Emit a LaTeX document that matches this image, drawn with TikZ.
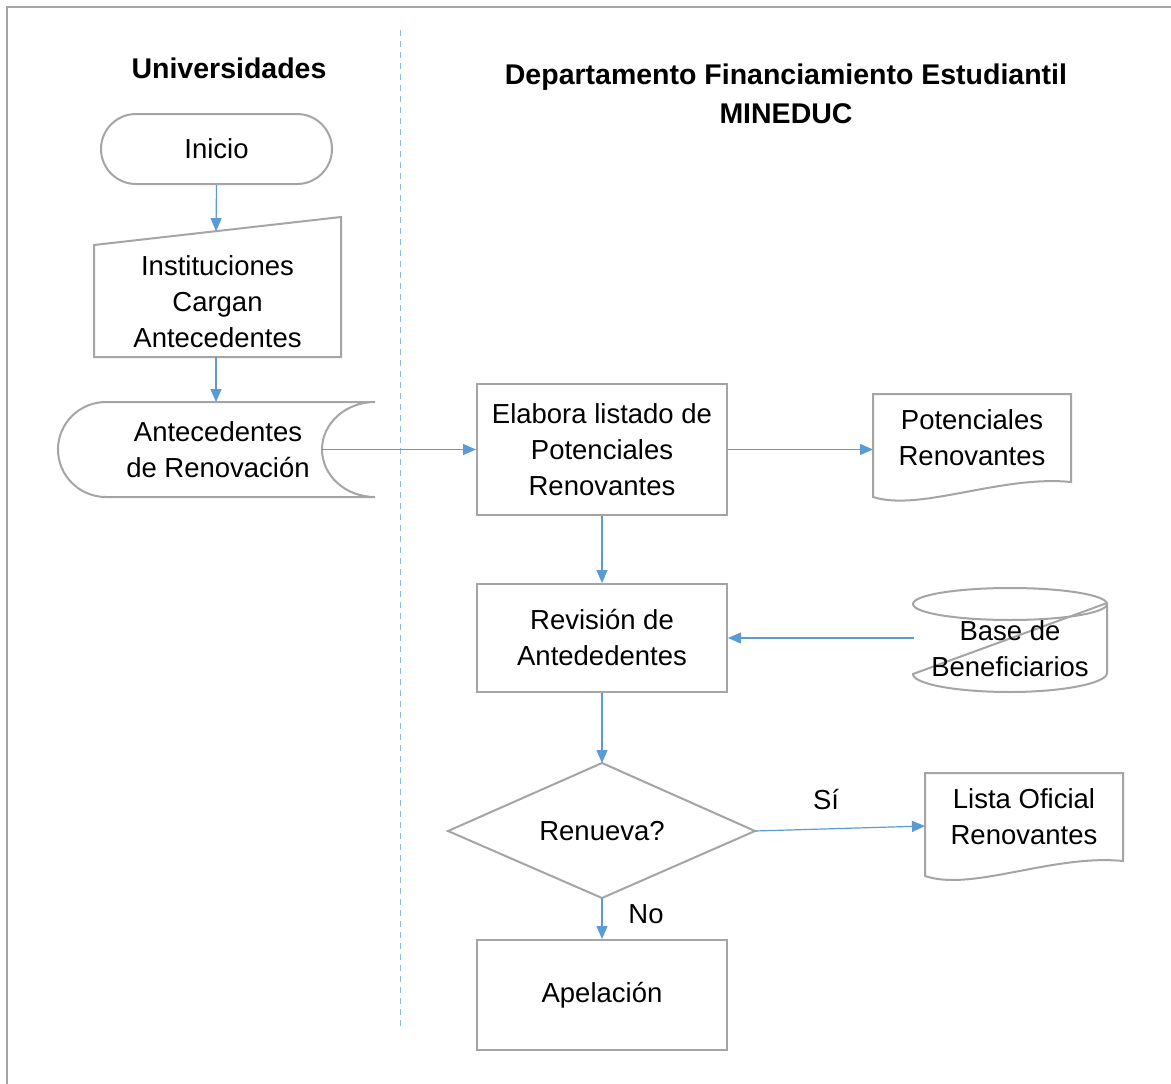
\documentclass[tikz,border=0pt]{standalone}
\usepackage{fontspec}
\setmainfont{Liberation Sans}
\usetikzlibrary{arrows.meta}
\definecolor{shapegray}{HTML}{A5A5A5}
\definecolor{flowblue}{HTML}{5B9BD5}
\begin{document}
\begin{tikzpicture}[x=1pt,y=-1pt,
  shp/.style={draw=shapegray,line width=2pt},
  flow/.style={draw=flowblue,line width=1.2pt,-{Triangle[length=13pt,width=11pt]}},
  txt/.style={align=center,font=\fontsize{27.5}{36}\selectfont,inner sep=0pt},
  ttl/.style={align=center,font=\fontsize{28.5}{39}\selectfont\bfseries,inner sep=0pt},
  box/.style={shp,txt,minimum width=250pt,minimum height=#1}]
\useasboundingbox[fill=white] (0,0) rectangle (1171,1084);
% frame
\draw[draw=shapegray,line width=2.5pt] (1171,7) -- (7,7) -- (7,1084);
% lane separator
\draw[draw=flowblue!70,line width=1pt,dash pattern=on 6pt off 5pt] (400,30) -- (400,1030);
% titles
\node[ttl] (t1) at (229,68) {Universidades};
\node[ttl] (t2) at (786,93.5) {Departamento Financiamiento Estudiantil\\MINEDUC};
% Inicio
\node[shp,txt,rounded corners=35pt,minimum width=231pt,minimum height=70pt] (inicio) at (216.5,149) {Inicio};
% manual input
\draw[shp] (94,245) -- (341,217) -- (341,357) -- (94,357) -- cycle;
\node[txt] (input) at (217.5,302) {Instituciones\\Cargan\\Antecedentes};
\coordinate (inTop) at (216,231.2);
\coordinate (inBot) at (216,357);
% stored data
\draw[shp] (106,402) -- (375,402)
  .. controls (345.7,402) and (322,423.3) .. (322,449.5)
  .. controls (322,475.7) and (345.7,497) .. (375,497)
  -- (106,497)
  .. controls (79.5,497) and (58,475.7) .. (58,449.5)
  .. controls (58,423.3) and (79.5,402) .. (106,402) -- cycle;
\node[txt] (stored) at (218,449.5) {Antecedentes\\de Renovación};
\coordinate (sdTop) at (216,402);
\coordinate (sdOut) at (322,449.5);
% Elabora
\node[box=131pt] (elabora) at (602,449.5) {Elabora listado de\\Potenciales\\Renovantes};
% Potenciales document
\draw[shp] (873,394) -- (1071,394) -- (1071,482)
  .. controls (1000,475) and (920,512) .. (873,497) -- cycle;
\node[txt] (pot) at (972,438) {Potenciales\\Renovantes};
\coordinate (potIn) at (873,449.5);
% Revision
\node[box=108pt] (revision) at (602,638) {Revisión de\\Antededentes};
% cylinder
\draw[shp] (1010,604) ellipse [x radius=97pt, y radius=16pt];
\draw[shp] (1107,604) -- (1107,673)
  .. controls (1107,683) and (1063.5,692) .. (1010,692)
  .. controls (956.5,692) and (913,684) .. (913,674)
  -- (1107,603);
\node[txt] (base) at (1010,648.5) {Base de\\Beneficiarios};
\coordinate (baseOut) at (914,638);
% decision
\draw[shp] (602,763) -- (755,831) -- (602,898) -- (448,831) -- cycle;
\node[txt] (renueva) at (602,831) {Renueva?};
\coordinate (diaTop) at (602,763);
\coordinate (diaRight) at (755,831);
\coordinate (diaBot) at (602,898);
% Lista oficial document
\draw[shp] (925,773) -- (1123,773) -- (1123,861)
  .. controls (1052,854) and (972,892) .. (925,876) -- cycle;
\node[txt] (lista) at (1024,816.5) {Lista Oficial\\Renovantes};
\coordinate (listaIn) at (925,826);
% Apelacion
\node[box=110pt] (apelacion) at (602,995) {Apelación};
% connectors
\draw[flow] (inicio.south) -- (inTop);
\draw[flow] (inBot) -- (sdTop);
\draw[flow] (sdOut) -- (elabora.west);
\draw[flow] (elabora.east) -- (potIn);
\draw[flow] (elabora.south) -- (revision.north);
\draw[flow] (baseOut) -- (revision.east);
\draw[flow] (revision.south) -- (diaTop);
\draw[flow] (diaRight) -- (listaIn);
\draw[flow] (diaBot) -- (apelacion.north);
% labels
\node[txt] (si) at (826,800) {Sí};
\node[txt] (no) at (646,914) {No};
\end{tikzpicture}
\end{document}
